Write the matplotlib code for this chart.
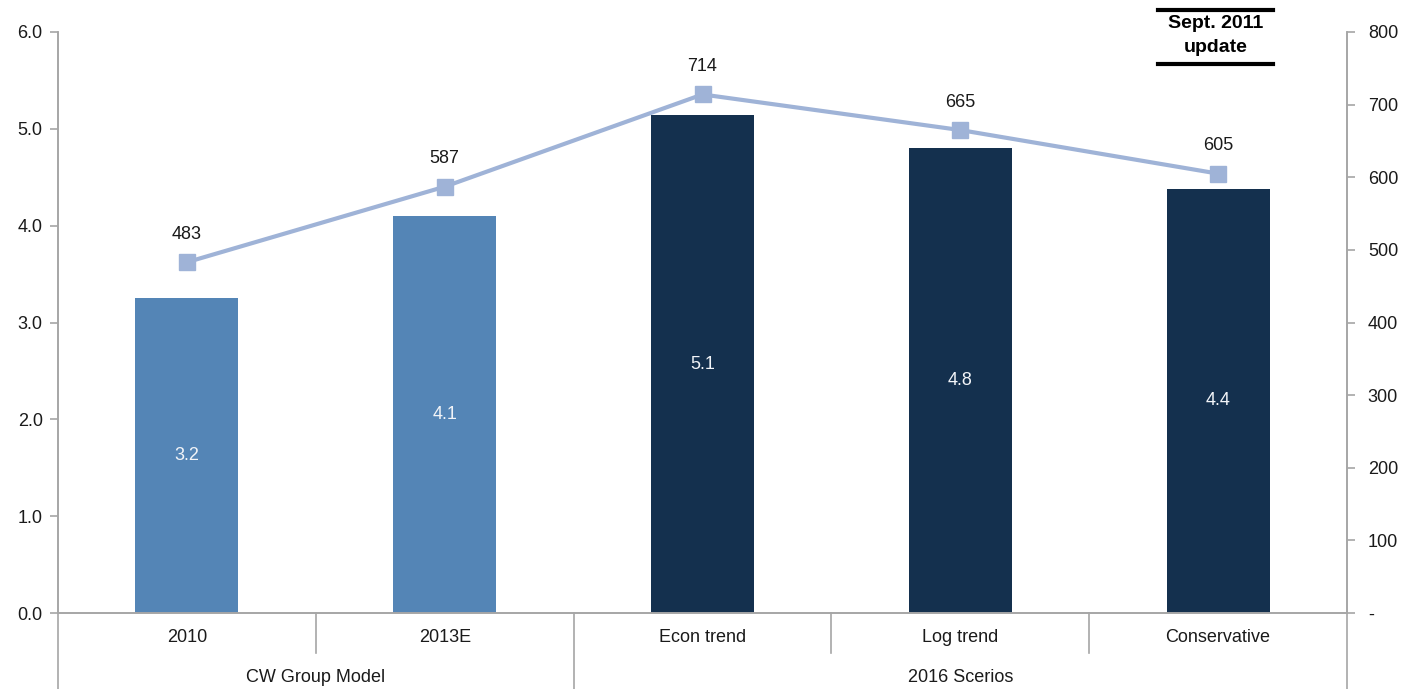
import matplotlib
matplotlib.use('Agg')
import matplotlib.pyplot as plt
import matplotlib.transforms as mtransforms
import numpy as np

plt.rcParams['font.family'] = ['Liberation Sans', 'DejaVu Sans']
plt.rcParams['axes.unicode_minus'] = False

# ------------------------------------------------------------------
# Data
# ------------------------------------------------------------------
categories = ['2010', '2013E', 'Econ trend', 'Log trend', 'Conservative']
groups = ['CW Group Model', '2016 Scerios']
group_sizes = [2, 3]
bar_values = [3.25, 4.10, 5.14, 4.80, 4.38]        # left axis
line_values = [483, 587, 714, 665, 605]            # right axis

LIGHT_BLUE = '#5485B6'
DARK_NAVY = '#14304E'
LINE_BLUE = '#9FB3D7'
AXIS_GREY = '#A6A6A6'
TEXT = '#1A1A1A'
FS = 13

bar_colors = [LIGHT_BLUE] * group_sizes[0] + [DARK_NAVY] * group_sizes[1]

W, H = 1416, 689
fig = plt.figure(figsize=(W / 100, H / 100), dpi=100)
left, right, bottom, top = 58 / W, 1347 / W, (H - 613) / H, (H - 32) / H
ax = fig.add_axes([left, bottom, right - left, top - bottom])
ax2 = ax.twinx()

x = np.arange(len(categories))

# Bars with centred value labels
bars = ax.bar(x, bar_values, width=0.4, color=bar_colors, edgecolor='none', zorder=2)
for b, v in zip(bars, bar_values):
    ax.text(b.get_x() + b.get_width() / 2, v / 2, f'{v:.1f}',
            ha='center', va='center', color='#F2F4F8', fontsize=FS)

ax.set_xlim(-0.5, len(categories) - 0.5)
ax.set_ylim(0, 6)
ax.set_yticks(np.arange(0, 6.01, 1.0))
ax.set_yticklabels([f'{t:.1f}' for t in np.arange(0, 6.01, 1.0)])

# Line on secondary axis
ax2.plot(x, line_values, color=LINE_BLUE, linewidth=3, marker='s',
         markersize=11, markerfacecolor=LINE_BLUE, markeredgecolor=LINE_BLUE,
         zorder=3, clip_on=False)
for xi, v in zip(x, line_values):
    ax2.annotate(f'{v}', (xi, v), xytext=(0, 20), textcoords='offset points',
                 ha='center', va='center', fontsize=FS, color=TEXT)
ax2.set_ylim(0, 800)
ax2.set_yticks(np.arange(0, 801, 100))
ax2.set_yticklabels(['-'] + [str(t) for t in range(100, 801, 100)])

# Axis styling
for a in (ax, ax2):
    a.spines['top'].set_visible(False)
    for s in ('left', 'right', 'bottom'):
        a.spines[s].set_color(AXIS_GREY)
        a.spines[s].set_linewidth(1.2)
    a.tick_params(axis='y', colors=TEXT, labelsize=FS, length=6,
                  color=AXIS_GREY, width=1.2)
ax.tick_params(axis='y', pad=5)
ax2.tick_params(axis='y', pad=9)
ax.set_xticks([])

# Two-tier category axis
trans = mtransforms.blended_transform_factory(ax.transData, fig.transFigure)
y0 = bottom
y_tier = (H - 653) / H
for xi, cat in zip(x, categories):
    ax.text(xi, (H - 637) / H, cat, transform=trans, ha='center', va='center',
            fontsize=FS, color=TEXT)

edges = np.cumsum(group_sizes)
start = 0
for g, n in zip(groups, group_sizes):
    centre = start + (n - 1) / 2
    ax.text(centre, (H - 677) / H, g, transform=trans, ha='center',
            va='center', fontsize=FS, color=TEXT)
    start += n

for i in range(1, len(categories)):
    y_end = 0 if i in edges else y_tier
    ax.plot([i - 0.5, i - 0.5], [y0, y_end], transform=trans, color=AXIS_GREY,
            linewidth=1.2, clip_on=False)
for xe in (-0.5, len(categories) - 0.5):
    ax.plot([xe, xe], [y0, 0], transform=trans, color=AXIS_GREY,
            linewidth=1.2, clip_on=False)

# Update badge, top right
bx0, bx1 = 1158 / W, 1273 / W
bc = (bx0 + bx1) / 2
fig.text(bc, (H - 23) / H, 'Sept. 2011', ha='center', va='center',
         fontsize=14, fontweight='bold', color='black')
fig.text(bc, (H - 47) / H, 'update', ha='center', va='center',
         fontsize=14, fontweight='bold', color='black')
for yy in (10, 64):
    fig.add_artist(plt.Line2D([bx0, bx1], [(H - yy) / H] * 2,
                              color='black', linewidth=3,
                              transform=fig.transFigure))

fig.savefig('out.png', dpi=100, facecolor='white')
